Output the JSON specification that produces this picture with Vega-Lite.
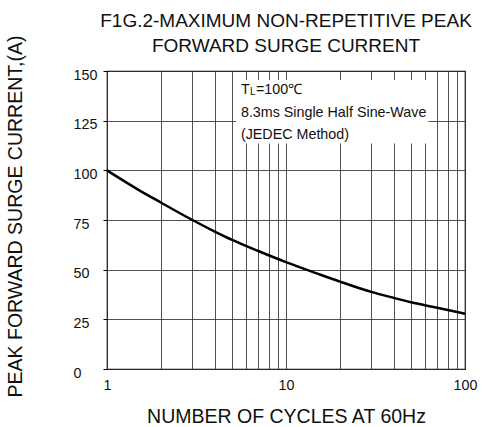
{
  "$schema": "https://vega.github.io/schema/vega-lite/v6.json",
  "autosize": {"type": "none"},
  "width": 358,
  "height": 298,
  "padding": {"left": 107, "top": 71, "right": 19, "bottom": 58},
  "background": "white",
  "config": {
    "font": "Liberation Sans",
    "view": {"stroke": "black", "strokeWidth": 1.2}
  },
  "title": {
    "text": ["F1G.2-MAXIMUM NON-REPETITIVE PEAK", "FORWARD SURGE CURRENT"],
    "fontSize": 19,
    "fontWeight": "normal",
    "color": "#111",
    "lineHeight": 25,
    "anchor": "middle",
    "offset": 0,
    "dy": 20.5
  },
  "datasets": {
    "curve": [
      {"cycles": 1, "current": 100},
      {"cycles": 1.5, "current": 90.2},
      {"cycles": 2, "current": 83.8},
      {"cycles": 3, "current": 75},
      {"cycles": 4, "current": 69.2},
      {"cycles": 5, "current": 65},
      {"cycles": 7, "current": 59.4},
      {"cycles": 10, "current": 53.8},
      {"cycles": 15, "current": 48},
      {"cycles": 20, "current": 44},
      {"cycles": 30, "current": 38.8},
      {"cycles": 40, "current": 35.8},
      {"cycles": 50, "current": 33.6},
      {"cycles": 70, "current": 30.8},
      {"cycles": 100, "current": 27.8}
    ],
    "box": [{"x1": 5.25, "x2": 62.5, "y1": 113.5, "y2": 145.5}],
    "notes": [
      {"x": 5.6, "y": 140.5, "text": "T"},
      {"x": 5.6, "y": 129, "text": "8.3ms Single Half Sine-Wave"},
      {"x": 5.6, "y": 118, "text": "(JEDEC Method)"}
    ]
  },
  "layer": [
    {
      "data": {"name": "curve"},
      "mark": {"type": "line", "color": "black", "strokeWidth": 2.5, "interpolate": "monotone"},
      "encoding": {
        "x": {
          "field": "cycles",
          "type": "quantitative",
          "scale": {"type": "log", "domain": [1, 100]},
          "axis": {
            "values": [1, 2, 3, 4, 5, 6, 7, 8, 9, 10, 20, 30, 40, 50, 60, 70, 80, 90, 100],
            "labelExpr": "datum.value == 1 || datum.value == 10 || datum.value == 100 ? format(datum.value, 'd') : ''",
            "title": "NUMBER OF CYCLES AT 60Hz",
            "titleFontSize": 19.5,
            "titleFontWeight": "normal",
            "titleColor": "#111",
            "titleBaseline": "middle",
            "titleY": 47,
            "labelFontSize": 14.3,
            "labelColor": "#111",
            "labelPadding": 9,
            "ticks": false,
            "domain": false,
            "grid": true,
            "gridColor": "#333",
            "gridWidth": 1,
            "gridOpacity": 0.85,
            "labelFlush": false,
            "labelOverlap": false
          }
        },
        "y": {
          "field": "current",
          "type": "quantitative",
          "scale": {"domain": [0, 150], "nice": false, "zero": true},
          "axis": {
            "values": [0, 25, 50, 75, 100, 125, 150],
            "title": "PEAK FORWARD SURGE CURRENT,(A)",
            "titleFontSize": 19.5,
            "titleFontWeight": "normal",
            "titleColor": "#111",
            "titleBaseline": "middle",
            "titleX": -92,
            "titleY": 145,
            "labelFontSize": 14.3,
            "labelColor": "#111",
            "labelAlign": "left",
            "labelBaseline": "middle",
            "labelOffset": 4,
            "labelPadding": 30,
            "tickSize": 4,
            "tickColor": "black",
            "domain": false,
            "grid": true,
            "gridColor": "#333",
            "gridWidth": 1,
            "gridOpacity": 0.85
          }
        }
      }
    },
    {
      "data": {"name": "box"},
      "mark": {"type": "rect", "fill": "white", "stroke": null},
      "encoding": {
        "x": {"field": "x1", "type": "quantitative"},
        "x2": {"field": "x2"},
        "y": {"field": "y1", "type": "quantitative"},
        "y2": {"field": "y2"}
      }
    },
    {
      "data": {"name": "notes"},
      "mark": {"type": "text", "align": "left", "baseline": "middle", "fontSize": 14.3, "color": "#111"},
      "encoding": {
        "x": {"field": "x", "type": "quantitative"},
        "y": {"field": "y", "type": "quantitative"},
        "text": {"field": "text"}
      }
    },
    {
      "data": {"values": [{"sub": "L", "rest": "=100℃"}]},
      "mark": {"type": "text", "align": "left", "baseline": "middle", "fontSize": 10, "color": "#111", "dx": 9, "dy": 2.5},
      "encoding": {
        "x": {"datum": 5.6},
        "y": {"datum": 140.5},
        "text": {"field": "sub"}
      }
    },
    {
      "data": {"values": [{"sub": "L", "rest": "=100℃"}]},
      "mark": {"type": "text", "align": "left", "baseline": "middle", "fontSize": 14.3, "color": "#111", "dx": 15},
      "encoding": {
        "x": {"datum": 5.6},
        "y": {"datum": 140.5},
        "text": {"field": "rest"}
      }
    }
  ]
}
